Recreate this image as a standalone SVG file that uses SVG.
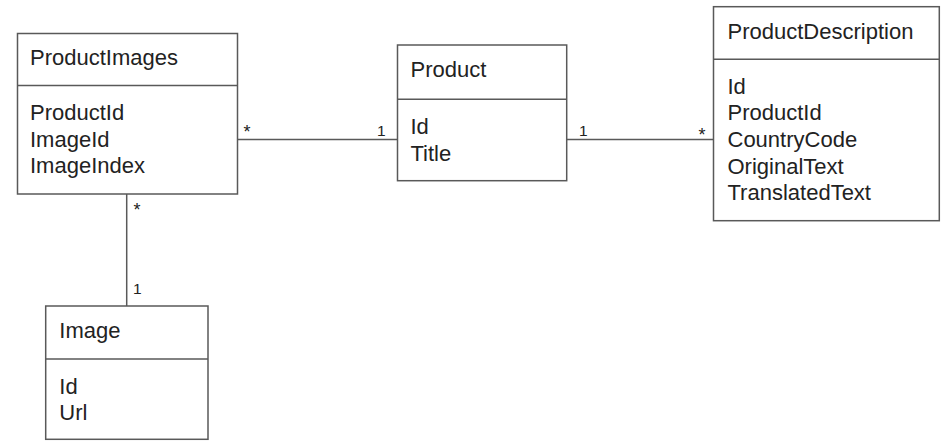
<svg xmlns="http://www.w3.org/2000/svg" width="950" height="448" viewBox="0 0 950 448">
<style>
.box{fill:#fff;stroke:#595959;stroke-width:1.5}
.div{stroke:#595959;stroke-width:1.5}
.t{font-family:"Liberation Sans",Arial,sans-serif;font-size:22px;fill:#222}
.lbl{font-family:"Liberation Sans",Arial,sans-serif;font-size:15.5px;fill:#222}
.star{font-family:"Liberation Sans",Arial,sans-serif;font-size:18px;fill:#222}
.con{stroke:#595959;stroke-width:1.5;fill:none}
</style>
<rect width="950" height="448" fill="#fff"/>
<g id="connectors">
<line class="con" x1="237" y1="139.5" x2="397.5" y2="139.5"/>
<line class="con" x1="566.7" y1="139.5" x2="713.5" y2="139.5"/>
<line class="con" x1="126.7" y1="194" x2="126.7" y2="306"/>
<text class="star" x="243.5" y="137.5">*</text>
<text class="lbl" x="377" y="135.7">1</text>
<text class="lbl" x="579" y="135.7">1</text>
<text class="star" x="698.5" y="141">*</text>
<text class="star" x="133.5" y="216">*</text>
<text class="lbl" x="133" y="294">1</text>
</g>
<g id="ProductImages">
<rect class="box" x="17.5" y="33.5" width="220" height="160.5"/>
<line class="div" x1="17.5" y1="85.5" x2="237.5" y2="85.5"/>
<text class="t" x="30" y="65">ProductImages</text>
<text class="t" x="30" y="120">ProductId</text>
<text class="t" x="30" y="146.7">ImageId</text>
<text class="t" x="30" y="173.3">ImageIndex</text>
</g>
<g id="Product">
<rect class="box" x="397.5" y="45" width="169.2" height="135.7"/>
<line class="div" x1="397.5" y1="99.3" x2="566.7" y2="99.3"/>
<text class="t" x="410.5" y="77">Product</text>
<text class="t" x="410.5" y="134">Id</text>
<text class="t" x="410.5" y="160.7">Title</text>
</g>
<g id="ProductDescription">
<rect class="box" x="713.5" y="6.7" width="225.8" height="214"/>
<line class="div" x1="713.5" y1="59.3" x2="939.3" y2="59.3"/>
<text class="t" x="727.5" y="38.7">ProductDescription</text>
<text class="t" x="727.5" y="93.5">Id</text>
<text class="t" x="727.5" y="120.2">ProductId</text>
<text class="t" x="727.5" y="146.9">CountryCode</text>
<text class="t" x="727.5" y="173.6">OriginalText</text>
<text class="t" x="727.5" y="200.3">TranslatedText</text>
</g>
<g id="Image">
<rect class="box" x="45.7" y="306" width="162.3" height="133.3"/>
<line class="div" x1="45.7" y1="359" x2="208" y2="359"/>
<text class="t" x="59.3" y="338">Image</text>
<text class="t" x="59.3" y="393.5">Id</text>
<text class="t" x="59.3" y="420.2">Url</text>
</g>
</svg>
